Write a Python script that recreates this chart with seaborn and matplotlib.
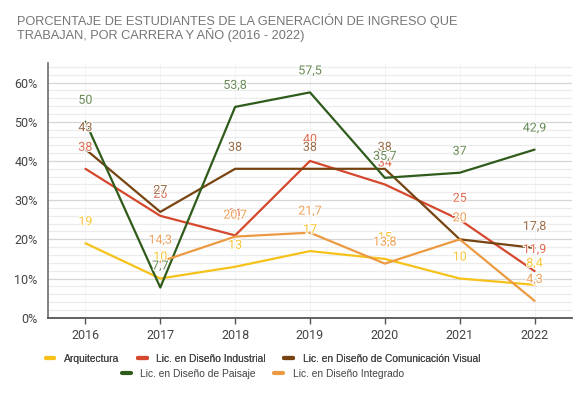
import pandas as pd
import seaborn as sns
import matplotlib.pyplot as plt
import matplotlib.patheffects as pe
import numpy as np
from matplotlib.lines import Line2D

# data
years = [2016, 2017, 2018, 2019, 2020, 2021, 2022]
arquitectura = [19, 10, 13, 17, 15, 10, 8.4]
industrial = [38, 26, 21, 40, 34, 25, 11.9]
comunicacion = [43, 27, 38, 38, 38, 20, 17.8]
paisaje = [50, 7.7, 53.8, 57.5, 35.7, 37, 42.9]
integrado = [np.nan, 14.3, 20.7, 21.7, 13.8, 20, 4.3]

series_names = [
    "Arquitectura",
    "Lic. en Diseño Industrial",
    "Lic. en Diseño de Comunicación Visual",
    "Lic. en Diseño de Paisaje",
    "Lic. en Diseño Integrado",
]
series_values = [arquitectura, industrial, comunicacion, paisaje, integrado]
line_colors = ["#f6c21a", "#d5482d", "#774411", "#2f5b1b", "#ec9a41"]
label_colors = ["#f8c53a", "#e06a50", "#9a6a45", "#678a55", "#eea15a"]

df = pd.DataFrame(
    {"year": years * len(series_names),
     "carrera": [n for n in series_names for _ in years],
     "valor": [v for vals in series_values for v in vals]}
)

sns.set_style("white")
plt.rcParams["font.family"] = ["Roboto", "DejaVu Sans"]

fig = plt.figure(figsize=(5.88, 3.95), dpi=100)
ax = fig.add_axes([48 / 588, 1 - 317.7 / 395, (572 - 48) / 588, (317.7 - 63) / 395])

sns.lineplot(
    data=df.dropna(),
    x="year",
    y="valor",
    hue="carrera",
    hue_order=series_names,
    palette=line_colors,
    linewidth=1.6,
    legend=False,
    ax=ax,
)

# data labels, later series drawn on top
halo = [pe.withStroke(linewidth=1.5, foreground="white")]
for vals, col in zip(series_values, label_colors):
    for yr, v in zip(years, vals):
        if np.isnan(v):
            continue
        txt = f"{v:g}".replace(".", ",")
        ax.annotate(txt, (yr, v), xytext=(0, 15.5), textcoords="offset points",
                    ha="center", va="center", fontsize=9, color=col,
                    path_effects=halo)

ax.set_xlim(2015.5, 2022.5)
ax.set_ylim(0, 65)
ax.set_xticks(years)
ax.set_xticklabels([str(y) for y in years])
ax.set_yticks(range(0, 61, 10))
ax.set_yticklabels([f"{t}%" for t in range(0, 61, 10)])
ax.set_yticks(np.arange(0, 65, 2), minor=True)
ax.grid(axis="y", which="major", color="#d6d6d6", linewidth=0.9)
ax.grid(axis="y", which="minor", color="#ececec", linewidth=0.9)
ax.grid(axis="x", which="major", color="#f3f3f3", linewidth=0.8)
ax.set_axisbelow(True)
ax.set_xlabel("")
ax.set_ylabel("")

for s in ["top", "right"]:
    ax.spines[s].set_visible(False)
ax.spines["left"].set_color("#777777")
ax.spines["left"].set_linewidth(1.3)
ax.spines["bottom"].set_color("#555555")
ax.spines["bottom"].set_linewidth(1.3)
ax.tick_params(axis="x", which="major", bottom=True, length=4, width=1,
               color="#555555", labelsize=9, labelcolor="#444444", pad=4)
ax.tick_params(axis="y", which="both", left=False, labelsize=9,
               labelcolor="#444444", pad=4)

# title
fig.text(17 / 588, 1 - 13.5 / 395,
         "PORCENTAJE DE ESTUDIANTES DE LA GENERACIÓN DE INGRESO QUE\n"
         "TRABAJAN, POR CARRERA Y AÑO (2016 - 2022)",
         ha="left", va="top", fontsize=9.2, color="#757575",
         family=["Liberation Sans", "DejaVu Sans"], linespacing=1.05)

# legend in two centred rows
handles = [Line2D([], [], color=c, linewidth=3) for c in line_colors]
leg_kw = dict(loc="center", frameon=False, handlelength=0.85,
              columnspacing=1.8, handletextpad=0.95, labelcolor="#444444",
              prop={"family": ["Liberation Sans", "DejaVu Sans"], "size": 7.4})
leg1 = fig.legend(handles[:3], series_names[:3], ncol=3,
                  bbox_to_anchor=(263 / 588, 1 - 359 / 395), **leg_kw)
leg2 = fig.legend(handles[3:], series_names[3:], ncol=2,
                  bbox_to_anchor=(263 / 588, 1 - 374 / 395), **leg_kw)
fig.add_artist(leg1)

fig.savefig("out.png", dpi=100)
